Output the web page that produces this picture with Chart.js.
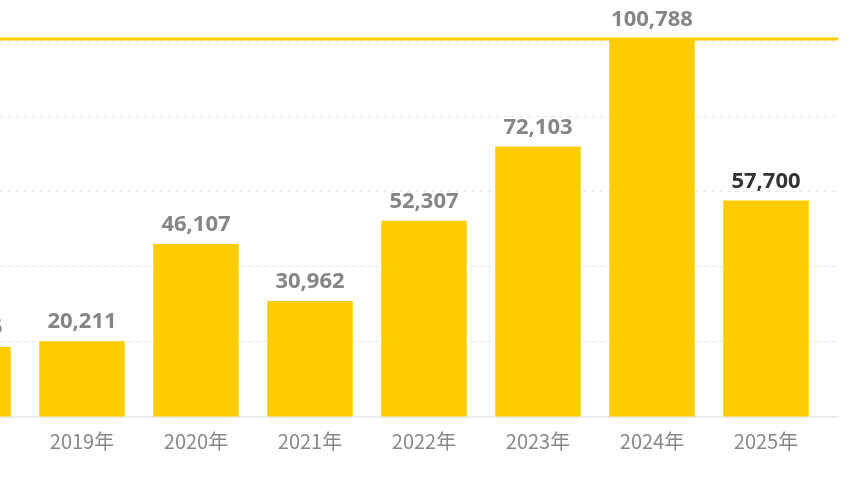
<!DOCTYPE html>
<html>
<head>
<meta charset="utf-8">
<script src="https://cdn.jsdelivr.net/npm/chart.js@4.4.1/dist/chart.umd.min.js"></script>
<style>
  html, body { margin: 0; padding: 0; background: #ffffff; }
  #wrap { position: relative; width: 864px; height: 480px; overflow: hidden; background: #fff; }
  #c { position: absolute; left: -89px; top: 0; }
</style>
</head>
<body>
<div id="wrap"><canvas id="c" width="953" height="480"></canvas></div>
<script>
// ---- data ----
const categories = ['2018年', '2019年', '2020年', '2021年', '2022年', '2023年', '2024年', '2025年'];
const values = [18665, 20211, 46107, 30962, 52307, 72103, 100788, 57700];
const yTicks = [0, 20000, 40000, 60000, 80000, 100000];
const highlightIndex = 7;

const BAR = '#FFCC00';

const points = categories.map((c, i) => ({ x: i, y: values[i] }));

const valueLabels = {
  id: 'valueLabels',
  afterDatasetsDraw(chart) {
    const ctx = chart.ctx;
    const meta = chart.getDatasetMeta(0);
    ctx.save();
    ctx.font = 'bold 22px "Noto Sans", "DejaVu Sans", sans-serif';
    ctx.textAlign = 'center';
    ctx.textBaseline = 'alphabetic';
    meta.data.forEach((el, i) => {
      ctx.fillStyle = i === highlightIndex ? '#333333' : '#858585';
      ctx.fillText(values[i].toLocaleString('en-US'), el.x, el.y - 13);
    });
    ctx.restore();
  }
};

const maxLine = {
  id: 'maxLine',
  afterDatasetsDraw(chart) {
    const { ctx, chartArea, scales } = chart;
    const y = scales.y.getPixelForValue(Math.max(...values));
    ctx.save();
    ctx.strokeStyle = BAR;
    ctx.lineWidth = 3;
    ctx.beginPath();
    ctx.moveTo(chartArea.left, y);
    ctx.lineTo(chartArea.right, y);
    ctx.stroke();
    ctx.restore();
  }
};

new Chart(document.getElementById('c'), {
  type: 'bar',
  data: {
    datasets: [{
      data: points,
      backgroundColor: BAR,
      borderWidth: 0,
      categoryPercentage: 1,
      barPercentage: 0.75
    }]
  },
  options: {
    responsive: false,
    animation: false,
    devicePixelRatio: 1,
    layout: { padding: { top: 39, right: 26, bottom: 15, left: 0 } },
    plugins: { legend: { display: false }, tooltip: { enabled: false } },
    scales: {
      x: {
        type: 'linear',
        min: -0.5,
        max: 7.6316,
        offset: false,
        afterBuildTicks: (s) => { s.ticks = categories.map((_, i) => ({ value: i })); },
        ticks: {
          callback: (v) => categories[v] ?? '',
          color: '#888888',
          font: { family: '"Noto Sans CJK SC", "Noto Sans", sans-serif', size: 20 },
          padding: 12,
          maxRotation: 0,
          autoSkip: false
        },
        grid: { display: false, drawTicks: false },
        border: { display: true, color: '#ebebeb', width: 2 }
      },
      y: {
        min: 0,
        max: Math.max(...values),
        afterBuildTicks: (s) => { s.ticks = yTicks.map(v => ({ value: v })); },
        afterFit: (s) => { s.width = 0; },
        ticks: { display: false },
        grid: { color: '#e4e4e4', lineWidth: 1, drawTicks: false },
        border: { display: false, dash: [4, 4] }
      }
    }
  },
  plugins: [valueLabels, maxLine]
});
</script>
</body>
</html>
